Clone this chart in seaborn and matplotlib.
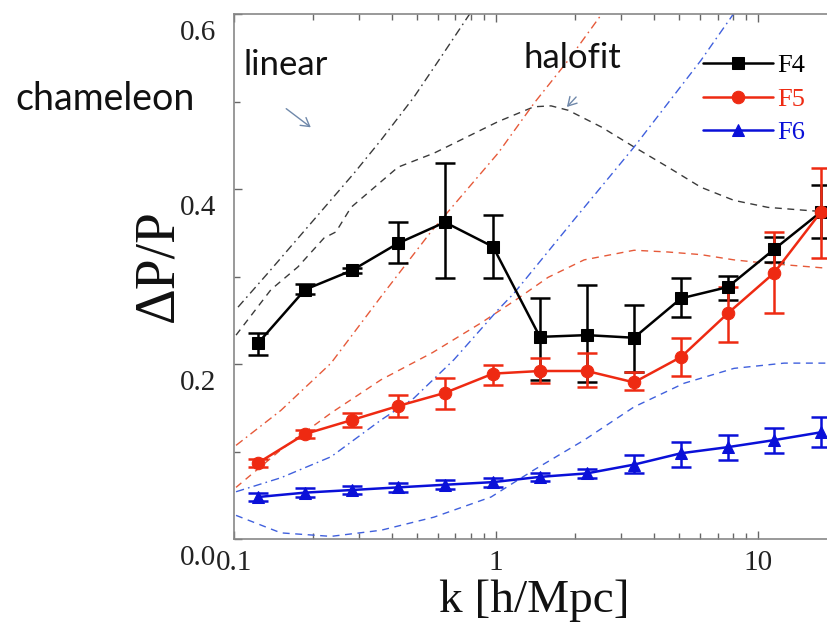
import numpy as np
import pandas as pd
import matplotlib
matplotlib.use("Agg")
import matplotlib.pyplot as plt
import seaborn as sns
from matplotlib.transforms import ScaledTranslation
from matplotlib.ticker import NullFormatter, FixedLocator

# ---------------- data ----------------
k_bins = [0.1236, 0.1867, 0.282, 0.423, 0.638, 0.974, 1.47, 2.22, 3.36, 5.08, 7.67, 11.5, 17.4]

f4 = [0.224, 0.285, 0.307, 0.338, 0.362, 0.334, 0.231, 0.233, 0.230, 0.275, 0.288, 0.331, 0.374]
f4_lo = [0.210, 0.280, 0.304, 0.315, 0.298, 0.298, 0.182, 0.179, 0.191, 0.254, 0.273, 0.317, 0.344]
f4_hi = [0.235, 0.291, 0.310, 0.362, 0.430, 0.370, 0.275, 0.290, 0.267, 0.298, 0.301, 0.345, 0.405]

f5 = [0.087, 0.120, 0.136, 0.152, 0.167, 0.189, 0.192, 0.192, 0.179, 0.208, 0.258, 0.304, 0.374]
f5_lo = [0.082, 0.115, 0.128, 0.139, 0.149, 0.176, 0.178, 0.174, 0.170, 0.186, 0.225, 0.258, 0.321]
f5_hi = [0.092, 0.125, 0.144, 0.165, 0.184, 0.199, 0.207, 0.213, 0.191, 0.230, 0.288, 0.351, 0.424]

f6 = [0.048, 0.053, 0.056, 0.059, 0.062, 0.065, 0.071, 0.075, 0.085, 0.098, 0.105, 0.113, 0.122]
f6_lo = [0.043, 0.048, 0.051, 0.054, 0.057, 0.060, 0.066, 0.070, 0.075, 0.082, 0.090, 0.098, 0.105]
f6_hi = [0.053, 0.058, 0.061, 0.064, 0.067, 0.070, 0.076, 0.080, 0.096, 0.111, 0.119, 0.127, 0.139]

# linear predictions (dash-dot)
lin_f4_k = [0.1036, 0.1348, 0.202, 0.287, 0.364, 0.486, 0.617, 0.789, 0.836]
lin_f4_v = [0.265, 0.304, 0.365, 0.418, 0.456, 0.505, 0.551, 0.599, 0.610]
lin_f5_k = [0.1018, 0.151, 0.2346, 0.364, 0.564, 1.018, 1.396, 1.884, 2.517, 2.75]
lin_f5_v = [0.107, 0.147, 0.201, 0.277, 0.351, 0.441, 0.498, 0.547, 0.599, 0.614]
lin_f6_k = [0.1018, 0.151, 0.2346, 0.364, 0.486, 0.691, 1.018, 1.172, 1.986, 3.364, 6.05, 8.09]
lin_f6_v = [0.054, 0.070, 0.094, 0.136, 0.161, 0.205, 0.262, 0.281, 0.365, 0.448, 0.547, 0.601]

# halofit predictions (dashed)
hf_f4_k = [0.1018, 0.1384, 0.1754, 0.2206, 0.245, 0.2796, 0.4227, 0.580, 1.018, 1.396,
           1.622, 1.884, 2.517, 3.364, 4.53, 6.05, 8.09, 10.9, 14.6, 20.0]
hf_f4_v = [0.233, 0.285, 0.311, 0.344, 0.351, 0.379, 0.425, 0.441, 0.477, 0.494,
           0.495, 0.490, 0.471, 0.448, 0.425, 0.402, 0.387, 0.379, 0.376, 0.373]
hf_f5_k = [0.1018, 0.151, 0.2346, 0.364, 0.572, 0.877, 1.213, 1.579, 2.168, 3.364,
           4.53, 6.05, 8.09, 10.9, 17.4, 20.0]
hf_f5_v = [0.059, 0.102, 0.144, 0.182, 0.213, 0.247, 0.275, 0.299, 0.319, 0.330,
           0.328, 0.325, 0.319, 0.315, 0.310, 0.309]
hf_f6_k = [0.1018, 0.151, 0.2346, 0.364, 0.580, 0.957, 1.396, 2.168, 3.364, 5.22,
           8.09, 12.57, 20.0]
hf_f6_v = [0.027, 0.007, 0.003, 0.010, 0.025, 0.048, 0.079, 0.113, 0.151, 0.178,
           0.195, 0.201, 0.201]

series_names = ["F4", "F5", "F6"]
y_tick_vals = [0.0, 0.2, 0.4, 0.6]
y_tick_labels = ["0.0", "0.2", "0.4", "0.6"]
x_tick_vals = [0.1, 1, 10]
x_tick_labels = ["0.1", "1", "10"]

# ---------------- style ----------------
sns.set_style("ticks")
plt.rcParams["font.family"] = ["Liberation Serif", "DejaVu Serif"]

C_BLACK = "#000000"
C_RED = "#ee2a12"
C_BLUE = "#0a10d8"
T_BLACK = "#3a3a3a"
T_RED = "#e65a3a"
T_BLUE = "#4060dd"

W, H = 828, 622
fig = plt.figure(figsize=(W / 100, H / 100), dpi=100)
fig.patch.set_facecolor("white")
ax = fig.add_axes([234 / W, 83 / H, 603 / W, 525 / H])
ax.set_xscale("log")

dash = (0, (5, 4))
dashdot = (0, (6, 3, 1.2, 3))

theory = [
    (lin_f4_k, lin_f4_v, T_BLACK, dashdot),
    (hf_f4_k, hf_f4_v, T_BLACK, dash),
    (lin_f5_k, lin_f5_v, T_RED, dashdot),
    (hf_f5_k, hf_f5_v, T_RED, dash),
    (lin_f6_k, lin_f6_v, T_BLUE, dashdot),
    (hf_f6_k, hf_f6_v, T_BLUE, dash),
]
for kk, vv, col, ls in theory:
    sns.lineplot(x=kk, y=vv, ax=ax, color=col, linewidth=1.0, linestyle=ls,
                 estimator=None, sort=False, zorder=2)

data = [
    ("F4", f4, f4_lo, f4_hi, C_BLACK, "s", 8),
    ("F5", f5, f5_lo, f5_hi, C_RED, "o", 9),
    ("F6", f6, f6_lo, f6_hi, C_BLUE, "^", 9),
]
for name, v, lo, hi, col, mk, ms in data:
    v = np.asarray(v)
    yerr = [v - np.asarray(lo), np.asarray(hi) - v]
    ax.errorbar(k_bins, v, yerr=yerr, fmt="none", ecolor=col, elinewidth=1.8,
                capsize=7, capthick=1.8, zorder=4)
    sns.lineplot(x=k_bins, y=v, ax=ax, color=col, linewidth=1.8, marker=mk,
                 markersize=ms, markeredgecolor=col, label=name,
                 estimator=None, zorder=5)

ax.set_xlim(0.1, 20)
ax.set_ylim(0, 0.6)

# ticks
ax.set_xticks(x_tick_vals)
ax.set_xticklabels(x_tick_labels)
ax.xaxis.set_minor_formatter(NullFormatter())
ax.set_yticks(y_tick_vals)
ax.set_yticklabels(y_tick_labels)
ax.yaxis.set_minor_locator(FixedLocator([0.1, 0.3, 0.5]))
ax.tick_params(axis="both", which="both", direction="in", top=True, right=True,
               colors="#666666", labelcolor="#222222", width=1.0)
ax.tick_params(axis="both", which="major", length=6, labelsize=21)
ax.tick_params(axis="both", which="minor", length=4)
ax.tick_params(axis="x", which="major", pad=8)
ax.tick_params(axis="y", which="major", pad=13)
for lab in ax.get_yticklabels():
    lab.set_transform(lab.get_transform() + ScaledTranslation(0, -0.16, fig.dpi_scale_trans))

for sp in ax.spines.values():
    sp.set_color("#888888")
    sp.set_linewidth(1.2)

ax.set_xlabel("")
ax.set_ylabel("")

# axis titles
fig.text(534 / W, 1 - 612 / H, "k [h/Mpc]", ha="center", va="baseline",
         fontsize=34, color="#111111")
fig.text(158 / W, 1 - 266 / H, "ΔP/P", ha="center", va="center", rotation=90,
         fontsize=40, color="#111111")

# annotations
sans = ["Lato", "DejaVu Sans"]
fig.text(15 / W, 1 - 110 / H, "chameleon", ha="left", va="baseline",
         fontsize=27, family=sans, color="#111111")
fig.text(243 / W, 1 - 75 / H, "linear", ha="left", va="baseline",
         fontsize=25, family=sans, color="#111111")
fig.text(523 / W, 1 - 68 / H, "halofit", ha="left", va="baseline",
         fontsize=25, family=sans, color="#111111")
arrow_col = "#6f88aa"
fig.add_artist(matplotlib.patches.FancyArrowPatch(
    (284 / W, 1 - 107 / H), (313 / W, 1 - 129 / H), transform=fig.transFigure,
    arrowstyle="->,head_length=6,head_width=3.5", color=arrow_col, lw=1.0))
fig.add_artist(matplotlib.patches.FancyArrowPatch(
    (578 / W, 1 - 95 / H), (565 / W, 1 - 109 / H), transform=fig.transFigure,
    arrowstyle="->,head_length=6,head_width=3.5", color=arrow_col, lw=1.0))

# legend
handles, labels = ax.get_legend_handles_labels()
leg = ax.legend(handles, labels, loc="upper left",
                bbox_to_anchor=(703 / W, 1 - 54 / H), bbox_transform=fig.transFigure,
                frameon=False, fontsize=19, handlelength=2.65, handletextpad=0.15,
                borderpad=0, borderaxespad=0, labelspacing=0.38)
for txt, col in zip(leg.get_texts(), [C_BLACK, C_RED, C_BLUE]):
    txt.set_color(col)

fig.savefig("out.png", dpi=100, facecolor="white")
